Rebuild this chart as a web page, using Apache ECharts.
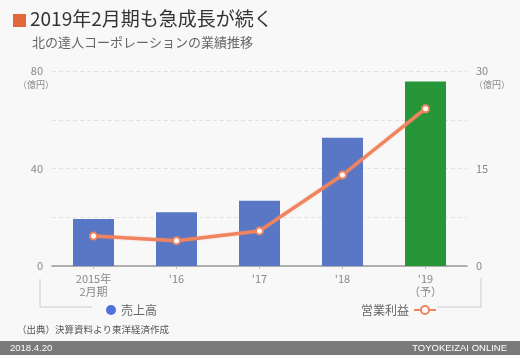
<!DOCTYPE html>
<html><head><meta charset="utf-8">
<script src="https://cdn.jsdelivr.net/npm/echarts@6/dist/echarts.min.js"></script>
<style>html,body{margin:0;padding:0;background:#f8f8f8;}#c{width:520px;height:355px;}</style>
</head><body><div id="c"></div>
<script>
const categories = ["2015年\n2月期", "'16", "'17", "'18", "'19\n（予）"];
const sales = [19.3, 22.1, 26.8, 52.6, 75.7];
const profit = [4.6, 3.9, 5.4, 14.0, 24.2];
const leftTicks = [0, 40, 80];
const rightTicks = [0, 15, 30];

const FONT = '"Noto Sans CJK JP", "Noto Sans", sans-serif';
const chart = echarts.init(document.getElementById('c'));
chart.setOption({
  backgroundColor: '#f8f8f8',
  textStyle: { fontFamily: FONT },
  animation: false,
  grid: { left: 52, right: 53, top: 71, bottom: 89, containLabel: false },
  xAxis: {
    type: 'category', data: categories,
    axisLine: { lineStyle: { color: '#999', width: 1.5 } },
    axisTick: { show: true, alignWithLabel: true, length: 3, lineStyle: { color: '#bbb' } },
    axisLabel: { color: '#888', fontSize: 11, lineHeight: 13, margin: 6, fontFamily: FONT }
  },
  yAxis: [
    { type: 'value', min: 0, max: 80, interval: 20,
      axisLine: { show: false }, axisTick: { show: false },
      axisLabel: { color: '#888', fontSize: 11, margin: 9,
        formatter: v => leftTicks.includes(v) ? String(v) : '' },
      splitLine: { lineStyle: { color: '#e2e2e2', type: [4, 3] } } },
    { type: 'value', min: 0, max: 30, interval: 7.5,
      axisLine: { show: false }, axisTick: { show: false },
      axisLabel: { color: '#888', fontSize: 11, margin: 9, align: 'left',
        formatter: v => rightTicks.includes(v) ? String(v) : '' },
      splitLine: { show: false } }
  ],
  legend: [
    { data: [{ name: '売上高', icon: 'circle' }], left: 101, top: 299, itemWidth: 10, itemHeight: 10, itemGap: 6,
      textStyle: { color: '#666', fontSize: 12, fontFamily: FONT } },
    { data: ['営業利益'], left: 356, top: 299, align: 'right', itemWidth: 22, itemHeight: 10,
      textStyle: { color: '#666', fontSize: 12, fontFamily: FONT } }
  ],
  series: [
    { name: '売上高', type: 'bar', data: sales, barWidth: 41,
      itemStyle: { color: p => p.dataIndex === sales.length - 1 ? '#279638' : '#5a77c5' } },
    { name: '営業利益', type: 'line', yAxisIndex: 1, data: profit,
      symbol: 'circle', symbolSize: 7,
      lineStyle: { color: '#f0845f', width: 3.5, shadowColor: 'rgba(240,132,95,0.35)', shadowBlur: 2 },
      itemStyle: { color: '#fff', borderColor: '#f0845f', borderWidth: 2 },
      z: 5 }
  ],
  graphic: [
    { type: 'rect', left: 13, top: 14, shape: { width: 13, height: 13 }, style: { fill: '#e0683a' } },
    { type: 'text', left: 30, top: 9, style: { text: '2019年2月期も急成長が続く', font: 'normal 19px ' + FONT, fill: '#333' } },
    { type: 'text', left: 32, top: 36, style: { text: '北の達人コーポレーションの業績推移', font: '13px ' + FONT, fill: '#666' } },
    { type: 'text', left: 18, top: 80, style: { text: '（億円）', font: '9px ' + FONT, fill: '#888' } },
    { type: 'text', left: 474, top: 80, style: { text: '（億円）', font: '9px ' + FONT, fill: '#888' } },
    { type: 'polyline', shape: { points: [[40, 279], [40, 307], [92, 307]] }, style: { stroke: '#ccc', lineWidth: 1, fill: null } },
    { type: 'polyline', shape: { points: [[437, 307], [481, 307], [481, 278]] }, style: { stroke: '#ccc', lineWidth: 1, fill: null } },
    { type: 'text', left: 17, top: 325, style: { text: '（出典）決算資料より東洋経済作成', font: '9.5px ' + FONT, fill: '#555' } },
    { type: 'rect', left: 0, top: 341, shape: { width: 520, height: 14 }, style: { fill: '#7a7a7a' } },
    { type: 'text', left: 10, top: 343, style: { text: '2018.4.20', font: '9.5px "Liberation Sans", sans-serif', fill: '#fff' } },
    { type: 'text', right: 13, top: 343, style: { text: 'TOYOKEIZAI ONLINE', font: '9.5px "Liberation Sans", sans-serif', fill: '#fff' } }
  ]
});
</script></body></html>
